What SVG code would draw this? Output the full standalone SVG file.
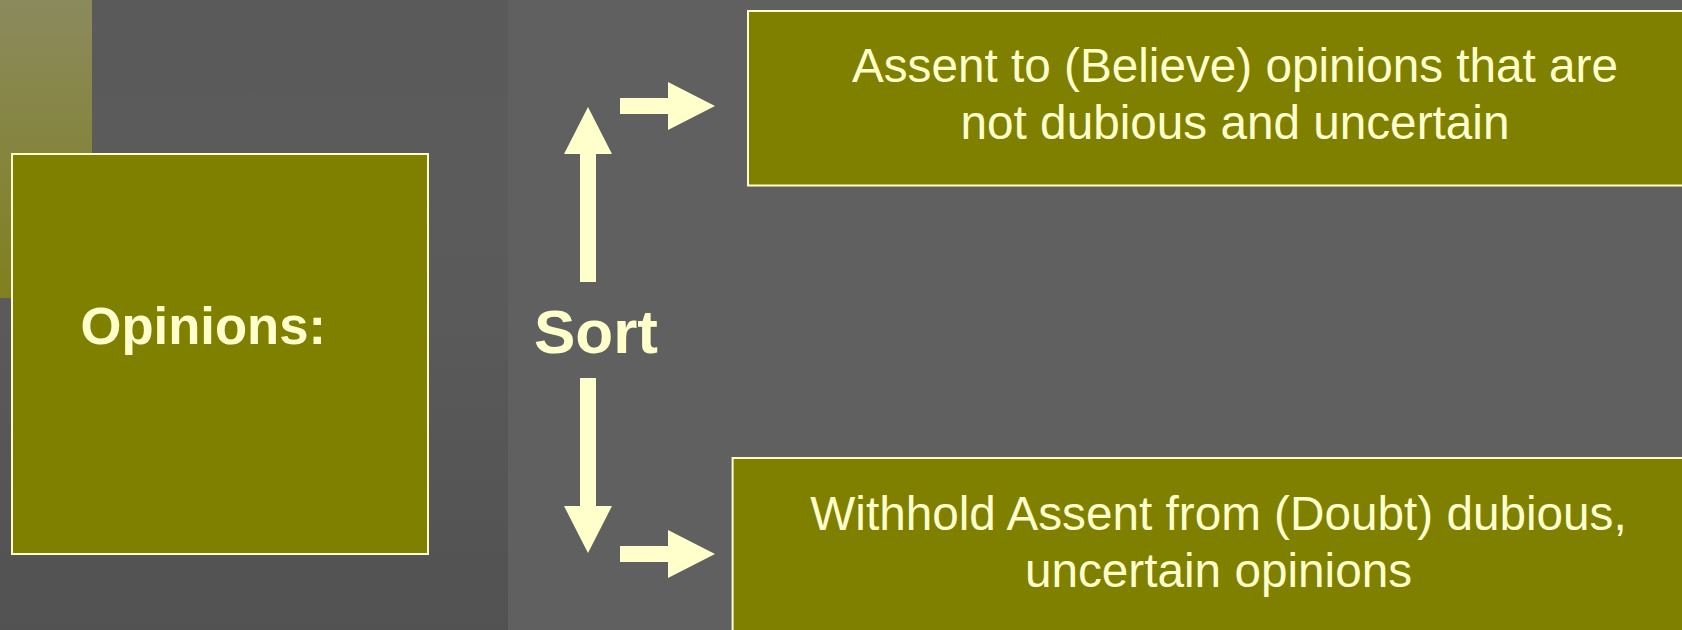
<svg xmlns="http://www.w3.org/2000/svg" width="1682" height="630" viewBox="0 0 1682 630">
  <defs>
    <linearGradient id="leftBg" x1="0" y1="0" x2="0" y2="1">
      <stop offset="0" stop-color="#5c5c5c"/>
      <stop offset="0.4" stop-color="#5b5b5b"/>
      <stop offset="1" stop-color="#525252"/>
    </linearGradient>
    <linearGradient id="olive" x1="0" y1="0" x2="0" y2="1">
      <stop offset="0" stop-color="#8b8a5e"/>
      <stop offset="1" stop-color="#80801e"/>
    </linearGradient>
    <style>
      .box { fill: #808000; stroke: #ffffcc; stroke-width: 2; }
      .arrow { fill: #ffffcc; }
      .txt { fill: #ffffcc; font-family: "Liberation Sans", Arial, sans-serif; }
      .bold { font-weight: bold; }
      .body { font-size: 47.7px; text-anchor: middle; }
    </style>
  </defs>

  <!-- background -->
  <rect x="0" y="0" width="1682" height="630" fill="#606060"/>
  <rect x="0" y="0" width="508" height="630" fill="url(#leftBg)"/>
  <rect x="92" y="0" width="416" height="95" fill="#5a5a5a"/>
  <rect x="0" y="0" width="92" height="298" fill="url(#olive)"/>

  <g id="opinions">
    <rect class="box" x="12" y="154" width="416" height="400"/>
    <text class="txt bold" x="80.5" y="344" font-size="52.6">Opinions:</text>
  </g>

  <g id="believe">
    <rect class="box" x="748" y="11" width="975" height="174.5"/>
    <text class="txt body" x="1235" y="81.7">Assent to (Believe) opinions that are</text>
    <text class="txt body" x="1235" y="139.3">not dubious and uncertain</text>
  </g>

  <g id="withhold">
    <rect class="box" x="732.6" y="458" width="975" height="200"/>
    <text class="txt body" x="1218.5" y="530">Withhold Assent from (Doubt) dubious,</text>
    <text class="txt body" x="1218.5" y="587.3">uncertain opinions</text>
  </g>

  <g id="sort">
    <text class="txt bold" x="534" y="353.3" font-size="62">Sort</text>
  </g>

  <g id="connectors">
    <polygon class="arrow" points="580,282 580,154 564,154 588,107 612,154 596,154 596,282"/>
    <polygon class="arrow" points="580,378 580,506 564,506 588,553 612,506 596,506 596,378"/>
    <polygon class="arrow" points="620,98 668,98 668,82 715,106 668,130 668,114 620,114"/>
    <polygon class="arrow" points="620,546 668,546 668,530 715,554 668,578 668,562 620,562"/>
  </g>
</svg>
